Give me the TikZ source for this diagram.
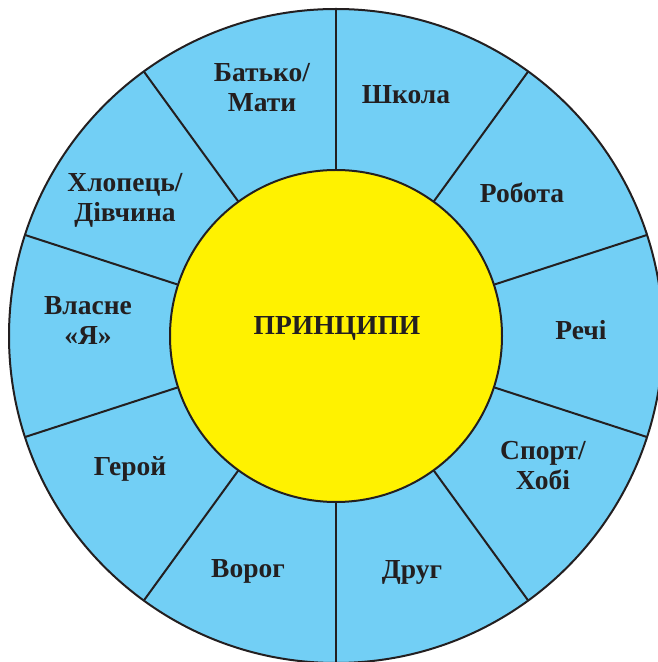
\documentclass[tikz,border=0pt]{standalone}
\usepackage{fontspec}
\setmainfont{Liberation Serif}
\definecolor{ringblue}{RGB}{114,207,245}
\definecolor{coreyellow}{RGB}{255,242,0}
\definecolor{ink}{RGB}{35,31,32}
\begin{document}
\begin{tikzpicture}[x=1pt,y=1pt,
  disc/.style={circle, draw=ink, line width=2pt, inner sep=0pt, outer sep=0pt},
  spoke/.style={draw=ink, line width=2pt},
  lbl/.style={text=ink, font=\fontsize{27.5}{30}\selectfont\bfseries, align=center, inner sep=0pt}
]
\useasboundingbox (0,0) rectangle (658,662);
\clip (0,0) rectangle (658,662);
\coordinate (c) at (336,326);
\node[disc, fill=ringblue, minimum size=654pt] (ring) at (c) {};
\node[disc, fill=coreyellow, minimum size=332pt] (core) at (c) {};
\foreach \a in {90,54,18,-18,-54,-90,-126,-162,162,126}
  \draw[spoke] (core.\a) -- (ring.\a);
\node[lbl] (center) at (337,334) {ПРИНЦИПИ};
\node[lbl] (parent) at (262,574) {Батько/\\Мати};
\node[lbl] (school) at (406,567) {Школа};
\node[lbl] (work) at (522,469) {Робота};
\node[lbl] (things) at (581,332) {Речі};
\node[lbl] (sport) at (543,196) {Спорт/\\Хобі};
\node[lbl] (friend) at (412,90) {Друг};
\node[lbl] (enemy) at (248,91) {Ворог};
\node[lbl] (hero) at (130,193) {Герой};
\node[lbl] (self) at (88,342) {Власне\\«Я»};
\node[lbl] (partner) at (125,462) {Хлопець/\\Дівчина};
\end{tikzpicture}
\end{document}
